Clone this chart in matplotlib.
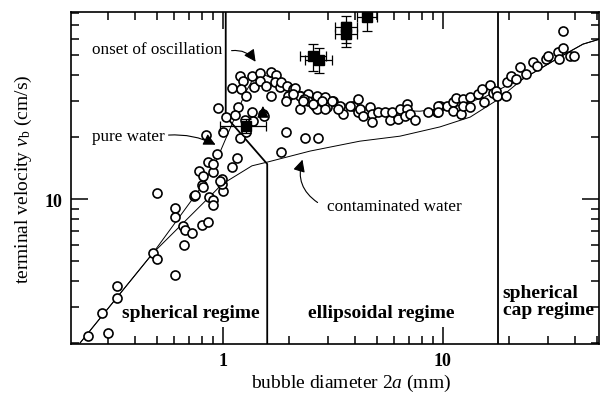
import numpy as np
import matplotlib
matplotlib.use("Agg")
import matplotlib.pyplot as plt


# -----------------------------
# Fonts
# -----------------------------

plt.rcParams["font.family"] = ["Liberation Serif", "DejaVu Serif"]
plt.rcParams["mathtext.fontset"] = "custom"
plt.rcParams["mathtext.rm"] = "Liberation Serif"
plt.rcParams["mathtext.it"] = "Liberation Serif:italic"


# -----------------------------
# Data (bubble diameter in mm, terminal velocity in cm/s)
# -----------------------------

circle_d = [
    0.244, 0.301, 0.281, 0.329, 0.329, 0.482, 0.503, 0.503, 0.607, 0.665,
    0.605, 0.605, 0.66, 0.672, 0.721, 0.805, 0.852, 0.738, 0.864, 0.904,
    0.898, 1.0, 0.987, 0.805, 0.746, 0.813, 0.993, 0.78, 0.809, 0.904,
    0.857, 0.936, 1.10, 1.16, 0.837, 1.0, 0.952, 1.03, 1.19, 1.28,
    1.17, 1.13, 1.26, 1.35, 1.52, 1.37, 1.54, 0.904, 0.97,
    1.10, 1.19, 1.23, 1.21, 1.28, 1.39, 1.35, 1.47, 1.47, 1.57,
    1.65, 1.75, 1.65, 1.72, 1.82, 1.84, 1.95, 1.97, 2.09, 2.24,
    2.44, 2.67, 2.91, 2.62, 2.24, 2.43, 2.67, 2.96, 3.17, 3.40,
    3.50, 3.89, 4.10, 4.10, 1.93, 2.12, 2.09, 2.34,
    1.93, 1.84, 2.36, 2.71,
    2.32, 2.57, 2.81, 2.91, 3.12, 3.34, 3.78, 4.19, 4.34, 4.66,
    4.74, 4.74, 5.08, 5.45, 5.74, 5.85, 6.26, 6.38, 6.84, 6.84,
    6.72, 7.08, 7.46, 8.58, 9.36, 9.69, 10.4,
    9.52, 9.52, 11.1, 11.1, 11.5, 12.1, 12.4, 12.4, 13.3, 13.3,
    14.5, 15.0, 15.4, 16.4, 16.8, 17.5, 17.7, 19.3, 19.5, 20.3,
    21.5, 22.5, 23.8, 25.7, 26.7, 29.4, 30.1, 33.4, 33.8, 35.2,
    35.0, 37.8, 39.4,
]
circle_v = [
    2.16, 2.24, 2.79, 3.80, 3.30, 5.47, 5.11, 10.7, 4.28, 6.0,
    9.04, 8.2, 7.42, 7.1, 6.84, 7.5, 7.7, 10.3, 10.2, 9.89,
    9.35, 10.9, 11.8, 11.7, 10.5, 11.4, 12.5, 13.7, 12.9, 13.5,
    15.2, 16.5, 14.3, 15.9, 20.5, 21.1, 27.7, 24.9, 19.7, 21.1,
    27.9, 25.6, 24.3, 26.4, 25.9, 24.0, 25.4, 14.8, 12.3,
    34.5, 39.4, 37.5, 34.2, 31.5, 34.9, 39.7, 40.9, 37.5, 35.5,
    41.5, 40.0, 31.5, 36.9, 34.9, 37.1, 35.5, 31.7, 34.2, 31.7,
    32.4, 31.7, 31.4, 28.4, 27.3, 30.0, 27.3, 27.9, 30.0, 28.4,
    25.9, 28.2, 30.6, 26.4, 30.0, 34.5, 32.4, 30.6,
    21.2, 17.0, 19.7, 19.7,
    30.0, 28.9, 30.0, 27.3, 30.0, 27.3, 28.4, 27.3, 25.4, 27.9,
    25.9, 23.6, 26.5, 26.4, 24.3, 26.5, 24.5, 27.3, 28.9, 27.3,
    25.4, 25.9, 24.3, 26.4, 26.5, 28.4, 28.4,
    28.4, 26.5, 29.5, 26.8, 30.8, 25.9, 30.6, 28.4, 31.2, 27.9,
    32.4, 34.2, 29.7, 35.7, 32.7, 33.6, 31.7, 31.7, 36.9, 39.4,
    38.3, 43.6, 40.4, 46.1, 44.4, 47.8, 49.6, 51.5, 47.8, 53.9,
    65.2, 49.3, 49.3,
]

# filled squares with error bars
square_d = [1.27, 2.57, 2.74, 3.62, 3.62, 4.53]
square_v = [22.7, 49.3, 47.3, 68.4, 63.2, 76.2]
square_d_lo = [0.97, 2.25, 2.35, 3.23, 3.23, 4.05]
square_d_hi = [1.57, 2.95, 3.13, 4.06, 4.06, 5.0]
square_v_lo = [21.0, 42.0, 40.9, 57.0, 54.5, 65.6]
square_v_hi = [24.6, 56.5, 54.0, 77.6, 72.0, 86.8]

# model curves
pure_d = [0.224, 0.481, 0.786, 0.92, 1.27, 1.43, 1.72, 2.24, 3.40, 5.17,
          7.86, 11.3, 15.5, 20.2, 23.1, 34.0, 43.3, 51.7]
pure_v = [2.0, 5.47, 11.2, 14.8, 33.1, 41.4, 38.2, 33.4, 29.2, 27.0,
          26.7, 28.0, 31.3, 36.2, 38.3, 48.9, 56.5, 59.8]

cont_d = [0.224, 0.481, 0.873, 0.99, 1.355, 1.585, 2.49, 4.19, 6.38, 9.69,
          13.3, 17.6, 23.1, 34.0, 43.3, 51.7]
cont_v = [2.0, 5.47, 10.3, 11.8, 14.5, 15.1, 17.1, 19.1, 20.2, 22.4,
          25.0, 30.2, 38.3, 48.9, 56.5, 59.8]

# regime boundaries
bound_d = [1.03, 1.03, 1.59, 1.59]
bound_v = [90.0, 25.2, 14.8, 1.0]
cap_boundary = 17.8


# -----------------------------
# Figure
# -----------------------------

fig = plt.figure(figsize=(6.0, 4.02), dpi=100)
ax = fig.add_axes([71 / 600, 1 - 345 / 402, 528 / 600, 332 / 402])
ax.set_xscale("log")
ax.set_yscale("log")
ax.set_xlim(0.204, 51.2)
ax.set_ylim(1.98, 80.9)

ax.plot(pure_d, pure_v, color="black", lw=0.7)
ax.plot(cont_d, cont_v, color="black", lw=0.7)
ax.plot(bound_d, bound_v, color="black", lw=1.3)
ax.axvline(cap_boundary, color="black", lw=1.3)

ax.plot(circle_d, circle_v, "o", mfc="white", mec="black", mew=1.2, ms=6.5,
        ls="none", zorder=3)

xerr = [np.array(square_d) - np.array(square_d_lo),
        np.array(square_d_hi) - np.array(square_d)]
yerr = [np.array(square_v) - np.array(square_v_lo),
        np.array(square_v_hi) - np.array(square_v)]
ax.errorbar(square_d, square_v, xerr=xerr, yerr=yerr, fmt="s", color="black",
            ms=7, elinewidth=0.9, capsize=3.5, capthick=0.9, zorder=4)


# -----------------------------
# Annotations
# -----------------------------

arrow_style = dict(arrowstyle="-|>", color="black", lw=0.8, mutation_scale=18)

ax.text(0.99, 53.5, "onset of oscillation", ha="right", va="center", fontsize=12.3)
ax.annotate("", xy=(1.43, 45.2), xytext=(1.064, 52.3),
            arrowprops=dict(arrow_style, connectionstyle="arc3,rad=-0.35"))

ax.text(0.545, 20.2, "pure water", ha="right", va="center", fontsize=12.3)
ax.annotate("", xy=(0.95, 18.1), xytext=(0.55, 20.4),
            arrowprops=dict(arrow_style, connectionstyle="arc3,rad=-0.15"))

ax.text(2.97, 9.25, "contaminated water", ha="left", va="center", fontsize=12.3)
ax.annotate("", xy=(2.32, 16.0), xytext=(2.76, 9.46),
            arrowprops=dict(arrow_style, connectionstyle="arc3,rad=-0.4"))

ax.annotate("", xy=(1.52, 29.2), xytext=(1.52, 24.4),
            arrowprops=dict(arrow_style))

ax.text(0.716, 2.83, "spherical regime", ha="center", va="center",
        fontsize=14, fontweight="bold")
ax.text(5.23, 2.83, "ellipsoidal regime", ha="center", va="center",
        fontsize=14, fontweight="bold")
ax.text(18.7, 3.2, "spherical\ncap regime", ha="left", va="center",
        fontsize=14, fontweight="bold", linespacing=1.0)


# -----------------------------
# Axes styling
# -----------------------------

ax.set_xticks([1, 10])
ax.set_xticklabels(["1", "10"], fontweight="bold", fontsize=13)
ax.set_yticks([10])
ax.set_yticklabels(["10"], fontweight="bold", fontsize=13)
ax.xaxis.set_minor_formatter(plt.NullFormatter())
ax.yaxis.set_minor_formatter(plt.NullFormatter())

ax.tick_params(which="both", direction="in", top=True, right=True, width=1.1)
ax.tick_params(which="major", length=12, pad=6)
ax.tick_params(which="minor", length=6)
for spine in ax.spines.values():
    spine.set_linewidth(1.2)

ax.set_xlabel("bubble diameter 2$a$ (mm)", fontsize=14)
ax.xaxis.set_label_coords(0.53, -0.085)
ax.set_ylabel("terminal velocity $v_\\mathrm{b}$ (cm/s)", fontsize=14)
ax.yaxis.set_label_coords(-0.07, 0.5)

fig.savefig("out.png", dpi=100)
